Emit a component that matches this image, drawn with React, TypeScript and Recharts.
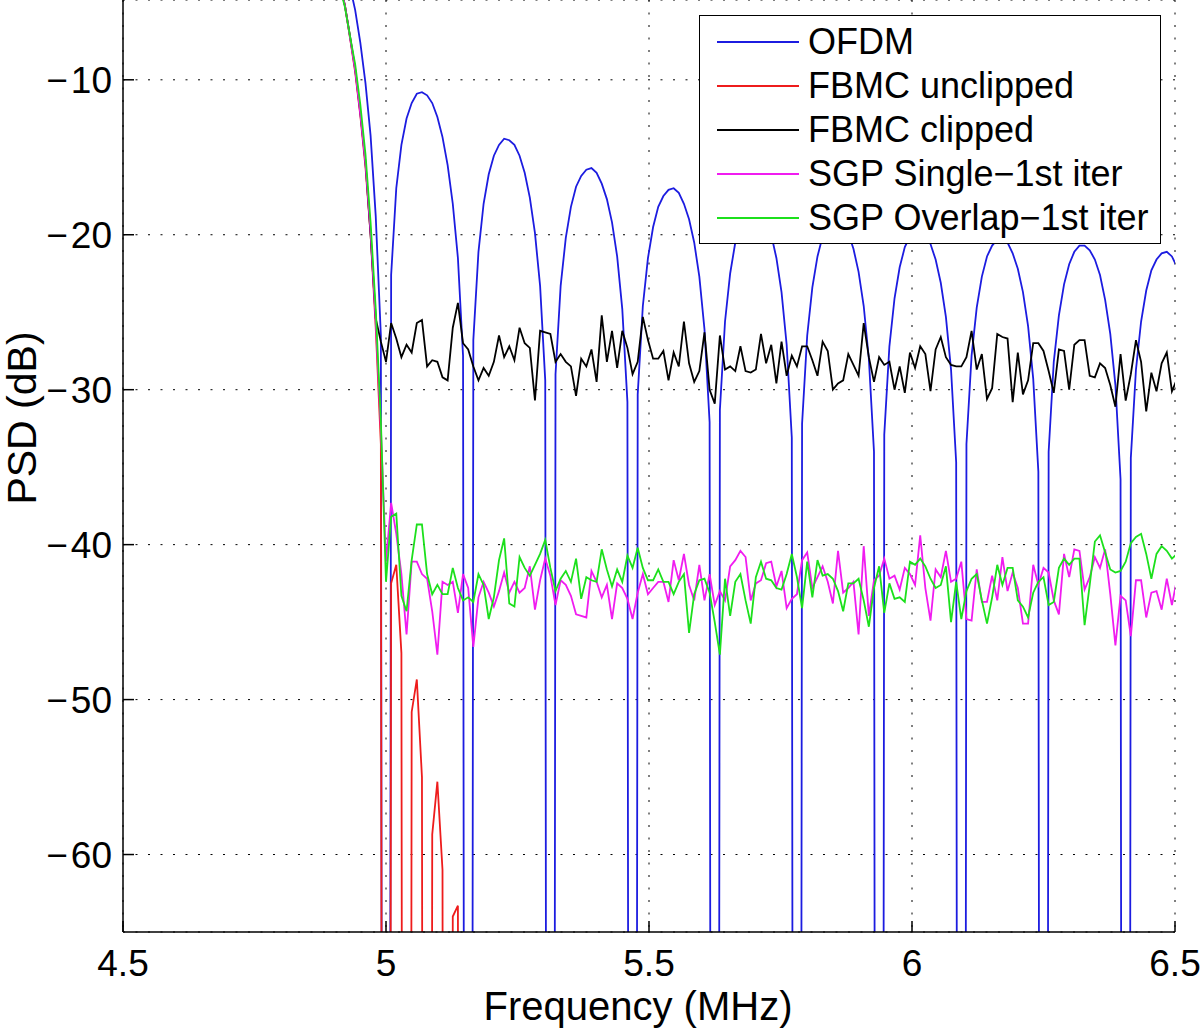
import React from "react";
import { LineChart, Line, XAxis, YAxis, CartesianGrid, Legend } from "recharts";

const FONT = "'Liberation Sans', Arial, Helvetica, sans-serif";

// PSD bins: f = 5 MHz + bin * 9.765625 kHz, first bin is -9
const F0 = 5;
const BIN = 0.009765625;
const FIRST_BIN = -9;

const xTicks = [4.5, 5, 5.5, 6, 6.5];
const yTicks = [-60, -50, -40, -30, -20, -10];

const ofdm = [
  -1.8, -2.8, -4.0, -5.5, -7.6, -10.2, -13.6, -18.8, -26.5,
  -300,
  -22.6, -17.0, -14.2, -12.5, -11.5, -10.9, -10.8, -11.0, -11.5, -12.4, -13.7, -15.5, -18.0, -21.5, -27.8,
  -300,
  -26.8, -21.1, -18.0, -16.1, -14.9, -14.2, -13.8, -13.9, -14.2, -14.9, -16.0, -17.6, -19.9, -23.3, -29.4,
  -300,
  -29.0, -23.3, -20.2, -18.2, -16.9, -16.2, -15.8, -15.7, -16.0, -16.7, -17.7, -19.2, -21.4, -24.8, -30.8,
  -300,
  -30.3, -24.6, -21.5, -19.5, -18.2, -17.5, -17.1, -17.0, -17.3, -18.0, -19.0, -20.5, -22.7, -26.1, -32.1,
  -300,
  -31.3, -25.6, -22.5, -20.5, -19.2, -18.5, -18.1, -18.0, -18.3, -19.0, -20.0, -21.5, -23.7, -27.1, -33.1,
  -300,
  -32.2, -26.5, -23.4, -21.4, -20.1, -19.4, -19.0, -18.9, -19.2, -19.9, -20.9, -22.4, -24.6, -28.0, -34.0,
  -300,
  -32.9, -27.2, -24.1, -22.1, -20.8, -20.1, -19.7, -19.6, -19.9, -20.6, -21.6, -23.1, -25.3, -28.7, -34.7,
  -300,
  -33.5, -27.8, -24.7, -22.7, -21.4, -20.7, -20.3, -20.2, -20.5, -21.2, -22.2, -23.7, -25.9, -29.3, -35.3,
  -300,
  -34.0, -28.2, -25.2, -23.2, -21.9, -21.1, -20.7, -20.7, -21.0, -21.6, -22.6, -24.2, -26.4, -29.7, -35.8,
  -300,
  -34.4, -28.7, -25.6, -23.6, -22.3, -21.6, -21.2, -21.1, -21.4, -22.1,
];

const fbmcUnclipped = [
  -3.8, -5.2, -7.3, -9.5, -12.3, -15.6, -20.0, -26.0, -33.5,
  -300, -42.5, -41.3, -47.0, -300, -50.8, -48.7, -55.0, -300, -58.7,
  -55.3, -61.0, -300, -64.0, -63.3, -300,
];

const fbmcClipped = [
  -3.8, -5.2, -7.2, -9.3, -12.1, -15.3, -20.0, -25.4, -26.9,
  -28.2, -25.7, -26.7, -27.9, -27.1, -27.6, -25.7, -25.5, -28.5, -28.1,
  -28.2, -29.2, -29.4, -26.0, -24.4, -27.0, -27.4, -28.5, -29.4, -28.6,
  -29.1, -28.2, -26.5, -27.9, -27.2, -28.1, -26.0, -27.0, -27.3, -30.7,
  -26.2, -26.3, -26.4, -28.2, -27.7, -28.2, -28.5, -30.4, -28.0, -28.5,
  -27.4, -29.5, -25.2, -28.2, -26.2, -28.6, -26.2, -27.3, -29.0, -28.2,
  -25.3, -26.8, -28.0, -28.0, -27.5, -29.4, -27.6, -28.5, -25.6, -28.3,
  -29.5, -28.8, -26.3, -30.0, -30.9, -26.5, -28.7, -28.5, -28.8, -27.2,
  -28.8, -28.9, -28.7, -26.4, -28.3, -27.1, -29.6, -26.9, -29.1, -27.8,
  -28.5, -27.2, -27.2, -28.1, -29.1, -26.9, -27.5, -30.0, -29.6, -29.4,
  -27.7, -28.4, -29.1, -25.7, -27.9, -29.5, -27.9, -28.4, -28.2, -30.0,
  -28.5, -30.2, -27.6, -28.6, -27.2, -27.7, -30.1, -27.4, -26.6, -27.9,
  -28.4, -28.5, -28.5, -27.9, -26.2, -28.7, -27.7, -30.6, -29.9, -26.4,
  -26.6, -26.7, -30.8, -27.6, -30.3, -29.4, -27.0, -27.0, -27.5, -28.8,
  -30.2, -27.4, -27.5, -30.0, -27.1, -26.8, -26.8, -29.1, -29.2, -28.3,
  -28.6, -29.7, -31.1, -27.7, -30.7, -29.0, -26.8, -28.2, -31.4, -28.9,
  -30.1, -28.3, -27.6, -30.1, -29.3,
];

const sgpSingle = [
  -3.8, -5.2, -7.3, -9.4, -12.2, -15.4, -19.8, -25.6, -32.5,
  -41.1, -37.3, -39.3, -41.9, -45.8, -41.1, -41.1, -41.9, -42.2, -44.3,
  -47.1, -42.4, -42.6, -42.4, -44.4, -41.9, -42.8, -46.6, -43.4, -42.4,
  -43.1, -44.0, -43.0, -41.8, -43.1, -42.4, -43.1, -42.8, -41.4, -44.2,
  -42.3, -40.9, -42.0, -43.9, -42.3, -42.6, -43.3, -44.5, -44.6, -44.7,
  -41.7, -42.4, -43.4, -42.6, -44.8, -42.5, -42.8, -43.5, -44.8, -43.1,
  -41.9, -43.2, -42.8, -42.4, -42.4, -43.7, -41.0, -42.3, -40.6, -42.6,
  -43.6, -41.3, -43.6, -41.9, -43.9, -43.0, -43.6, -41.4, -41.0, -40.4,
  -40.8, -43.6, -42.5, -42.3, -41.2, -41.1, -42.7, -41.7, -44.1, -43.5,
  -43.2, -41.0, -40.5, -42.8, -42.1, -41.4, -42.4, -43.8, -40.4, -43.1,
  -42.8, -42.4, -45.8, -40.1, -44.6, -42.3, -42.0, -40.9, -42.2, -42.0,
  -42.9, -41.5, -41.9, -42.6, -39.4, -42.8, -44.9, -41.6, -42.1, -40.4,
  -42.4, -42.2, -41.1, -44.8, -44.9, -41.6, -43.7, -43.7, -42.0, -43.6,
  -40.8, -43.0, -41.8, -42.8, -45.1, -45.1, -41.3, -42.6, -41.5, -41.8,
  -43.6, -44.5, -40.6, -42.1, -40.3, -40.4, -42.9, -42.1, -40.8, -41.5,
  -40.3, -43.2, -46.5, -43.3, -43.6, -45.9, -42.3, -42.3, -44.7, -43.1,
  -43.0, -44.2, -42.2, -43.9, -42.2,
];

const sgpOverlap = [
  -4.0, -5.3, -7.2, -9.0, -11.6, -14.8, -19.2, -24.8, -32.0,
  -42.4, -38.2, -38.0, -43.3, -44.3, -41.0, -38.7, -38.7, -41.9, -43.2,
  -42.6, -43.2, -43.2, -41.5, -42.8, -43.6, -43.4, -43.7, -41.9, -42.6,
  -44.8, -43.4, -41.0, -39.6, -43.8, -44.0, -40.8, -41.5, -42.0, -41.3,
  -40.6, -39.7, -41.5, -43.0, -42.2, -41.7, -42.4, -40.9, -43.5, -42.1,
  -42.3, -42.4, -40.3, -41.6, -42.7, -41.6, -42.4, -40.7, -41.5, -40.2,
  -41.5, -42.3, -42.3, -41.6, -42.4, -42.4, -43.2, -42.4, -41.9, -45.7,
  -43.2, -42.3, -42.2, -43.1, -45.0, -47.1, -42.2, -44.6, -42.4, -41.9,
  -43.6, -45.1, -42.1, -41.1, -42.2, -42.3, -42.8, -42.9, -41.9, -40.6,
  -42.1, -44.1, -41.1, -43.4, -41.0, -42.0, -41.9, -42.2, -43.0, -44.3,
  -42.5, -42.5, -42.2, -43.6, -45.3, -42.8, -41.4, -44.4, -42.5, -43.5,
  -43.4, -43.7, -41.1, -41.3, -40.9, -41.4, -42.2, -42.8, -42.6, -41.4,
  -45.0, -42.4, -44.8, -43.0, -42.2, -41.9, -43.6, -45.1, -43.4, -41.3,
  -42.6, -41.5, -41.5, -43.6, -44.0, -44.7, -43.1, -42.4, -42.1, -43.9,
  -43.7, -41.5, -40.9, -41.3, -40.9, -40.9, -45.2, -42.6, -39.8, -39.4,
  -40.5, -41.6, -41.8, -41.7, -41.1, -39.9, -39.5, -39.3, -40.6, -42.2,
  -40.6, -40.1, -40.4, -40.9, -40.6,
];

const data = ofdm.map((v, i) => ({
  f: F0 + (FIRST_BIN + i) * BIN,
  ofdm: v,
  fbmcUnclipped: fbmcUnclipped[i],
  fbmcClipped: fbmcClipped[i],
  sgpSingle: sgpSingle[i],
  sgpOverlap: sgpOverlap[i],
}));

// plot order = legend order
const series = [
  { key: "ofdm", name: "OFDM", color: "#1c1ce0" },
  { key: "fbmcUnclipped", name: "FBMC unclipped", color: "#ee1c1c" },
  { key: "fbmcClipped", name: "FBMC clipped", color: "#000000" },
  { key: "sgpSingle", name: "SGP Single\u22121st iter", color: "#f01cf0" },
  { key: "sgpOverlap", name: "SGP Overlap\u22121st iter", color: "#1ce01c" },
];

const minus = (v: number) => String(v).replace("-", "\u2212\u200A");

const LegendBox = () => (
  <div
    style={{
      width: 462,
      height: 229,
      boxSizing: "border-box",
      background: "#fff",
      border: "1px solid #000",
      padding: "4px 0",
      fontFamily: FONT,
    }}
  >
    {series.map((s) => (
      <div key={s.key} style={{ display: "flex", alignItems: "center", height: 43.9 }}>
        <svg width={108} height={10} style={{ flexShrink: 0 }}>
          <line x1={17} x2={99} y1={5} y2={5} stroke={s.color} strokeWidth={1.8} />
        </svg>
        <span style={{ fontSize: 36, lineHeight: "43.9px", color: "#000", whiteSpace: "nowrap" }}>
          {s.name}
        </span>
      </div>
    ))}
  </div>
);

const XLabel = () => (
  <text x={638} y={1020} textAnchor="middle" fontSize={40} fill="#000" fontFamily={FONT}>
    Frequency (MHz)
  </text>
);

const YLabel = () => (
  <text
    x={36}
    y={418}
    transform="rotate(-90 36 418)"
    textAnchor="middle"
    fontSize={41}
    fill="#000"
    fontFamily={FONT}
  >
    PSD (dB)
  </text>
);

const tickStyle = { fontSize: 37, fill: "#000", fontFamily: FONT };

export default function App() {
  return (
    <div style={{ position: "absolute", left: 0, top: 0, width: 1200, height: 1029, background: "#fff" }}>
      <LineChart width={1200} height={1029} data={data} margin={{ top: 0, right: 25, bottom: 0, left: 0 }}>
        <CartesianGrid stroke="#000" strokeDasharray="2 10.5" strokeWidth={1} />
        <XAxis
          dataKey="f"
          type="number"
          domain={[4.5, 6.5]}
          ticks={xTicks}
          interval={0}
          allowDataOverflow
          height={97}
          tickSize={-11}
          tickMargin={29}
          tick={tickStyle}
          axisLine={{ stroke: "#000", strokeWidth: 1.5 }}
          tickLine={{ stroke: "#000", strokeWidth: 1.5 }}
          label={<XLabel />}
        />
        <YAxis
          type="number"
          domain={[-65, -4.85]}
          ticks={yTicks}
          interval={0}
          allowDataOverflow
          width={123}
          tickSize={-11}
          tickMargin={22}
          tick={tickStyle}
          tickFormatter={minus}
          axisLine={{ stroke: "#000", strokeWidth: 1.5 }}
          tickLine={{ stroke: "#000", strokeWidth: 1.5 }}
          label={<YLabel />}
        />
        <Legend
          layout="vertical"
          align="center"
          verticalAlign="middle"
          width={462}
          height={229}
          content={<LegendBox />}
          wrapperStyle={{ left: 699, top: 15, width: 462, height: 229 }}
        />
        {series.map((s) => (
          <Line
            key={s.key}
            name={s.name}
            dataKey={s.key}
            stroke={s.color}
            strokeWidth={1.8}
            dot={false}
            type="linear"
            isAnimationActive={false}
          />
        ))}
      </LineChart>
    </div>
  );
}
